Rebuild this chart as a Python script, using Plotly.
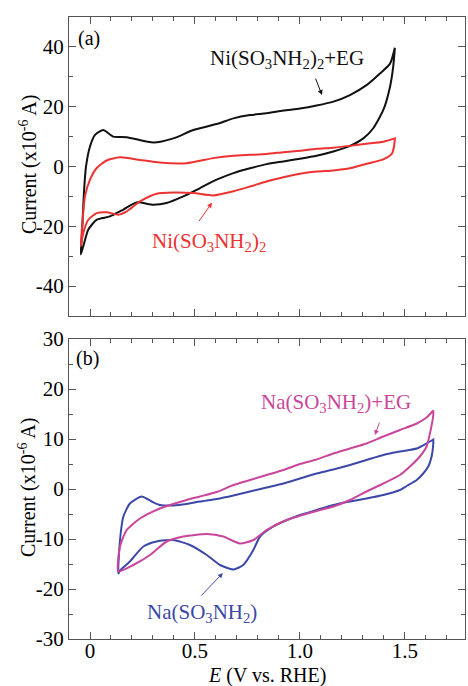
import plotly.graph_objects as go

# ---------------- data (E in V vs RHE, current in 1e-6 A) ----------------
# Panel (a): Ni(SO3NH2)2 + EG (black)
ni_eg_E_fwd = [-0.044, -0.038, -0.029, -0.019, 0.0, 0.024, 0.063, 0.111, 0.175, 0.302, 0.397, 0.492,
               0.603, 0.683, 0.762, 0.841, 0.921, 1.0, 1.079, 1.159, 1.238, 1.317, 1.381, 1.429, 1.452]
ni_eg_I_fwd = [-29.4, -22.2, -8.9, 0.0, 6.7, 10.6, 12.2, 10.0, 9.8, 8.0, 9.4, 12.2,
               14.2, 16.1, 17.2, 17.8, 18.7, 19.4, 20.4, 21.7, 23.9, 27.2, 31.1, 34.4, 39.7]
ni_eg_E_rev = [1.452, 1.444, 1.429, 1.397, 1.349, 1.302, 1.238, 1.159, 1.079, 1.0, 0.921, 0.841, 0.762,
               0.683, 0.603, 0.524, 0.444, 0.365, 0.302, 0.222, 0.159, 0.095, 0.032, -0.008, -0.032, -0.044]
ni_eg_I_rev = [39.7, 33.3, 26.7, 18.9, 12.8, 9.4, 6.9, 5.0, 3.6, 2.6, 1.7, 0.8, -0.6,
               -2.2, -4.4, -7.2, -10.0, -12.2, -12.8, -12.0, -14.4, -16.7, -17.8, -21.1, -26.7, -29.4]

# Panel (a): Ni(SO3NH2)2 (red)
ni_E_fwd = [-0.044, -0.035, -0.024, 0.0, 0.032, 0.079, 0.143, 0.238, 0.333, 0.46, 0.587, 0.683,
            0.762, 0.841, 0.921, 1.0, 1.079, 1.159, 1.238, 1.317, 1.397, 1.452]
ni_I_fwd = [-26.7, -17.8, -10.0, -4.4, -0.5, 2.0, 3.1, 2.2, 1.3, 1.1, 2.8, 3.6,
            3.9, 4.2, 4.8, 5.3, 5.9, 6.3, 6.9, 7.6, 8.3, 9.4]
ni_E_rev = [1.452, 1.448, 1.437, 1.397, 1.317, 1.238, 1.159, 1.079, 1.0, 0.921, 0.841, 0.762, 0.683,
            0.587, 0.492, 0.397, 0.317, 0.238, 0.175, 0.135, 0.079, 0.032, -0.008, -0.032, -0.044]
ni_I_rev = [9.4, 6.7, 4.2, 2.4, 0.9, -0.6, -1.3, -1.7, -2.4, -3.6, -5.0, -6.7, -8.3,
            -9.7, -8.9, -8.7, -9.1, -11.7, -15.0, -16.1, -15.3, -15.6, -17.8, -22.2, -26.7]

# Panel (b): Na(SO3NH2) (blue)
na_E_fwd = [0.135, 0.143, 0.159, 0.190, 0.246, 0.294, 0.333, 0.397, 0.460, 0.524, 0.603, 0.683, 0.762,
            0.841, 0.921, 1.0, 1.079, 1.159, 1.238, 1.317, 1.397, 1.476, 1.556, 1.603, 1.635]
na_I_fwd = [-16.9, -10.2, -5.5, -2.9, -1.5, -2.5, -3.2, -3.3, -3.0, -2.5, -2.0, -1.3, -0.5,
            0.3, 1.1, 2.1, 3.1, 3.9, 4.8, 5.8, 6.8, 7.5, 8.1, 9.1, 9.9]
na_E_rev = [1.635, 1.635, 1.627, 1.611, 1.587, 1.556, 1.508, 1.476, 1.397, 1.317, 1.238, 1.159, 1.079,
            1.0, 0.921, 0.873, 0.810, 0.778, 0.730, 0.683, 0.619, 0.556, 0.476, 0.397, 0.317, 0.254,
            0.190, 0.143, 0.135]
na_I_rev = [9.9, 9.1, 6.5, 4.5, 3.1, 1.8, 0.6, -0.2, -1.2, -1.9, -2.5, -3.2, -4.2,
            -5.2, -6.5, -7.5, -9.5, -12.2, -15.2, -16.1, -15.2, -13.2, -11.2, -10.2, -10.5, -11.5,
            -14.5, -16.3, -16.9]

# Panel (b): Na(SO3NH2) + EG (magenta)
na_eg_E_fwd = [0.135, 0.143, 0.175, 0.238, 0.333, 0.460, 0.524, 0.603, 0.683, 0.762, 0.841, 0.921,
               1.0, 1.079, 1.159, 1.238, 1.317, 1.397, 1.476, 1.556, 1.603, 1.635]
na_eg_I_fwd = [-16.5, -11.5, -8.2, -5.9, -3.9, -2.2, -1.5, -0.6, 0.8, 1.8, 2.8, 3.8,
               5.0, 5.9, 7.1, 8.1, 9.1, 10.5, 11.8, 13.1, 14.3, 15.7]
na_eg_E_rev = [1.635, 1.635, 1.619, 1.603, 1.571, 1.524, 1.476, 1.397, 1.317, 1.238, 1.159, 1.079,
               0.937, 0.841, 0.778, 0.714, 0.635, 0.556, 0.444, 0.365, 0.286, 0.206, 0.135]
na_eg_I_rev = [15.7, 14.8, 11.1, 8.5, 6.5, 4.5, 2.8, 1.1, -0.5, -2.2, -3.5, -4.4,
               -6.2, -8.2, -10.2, -10.9, -9.5, -9.0, -9.5, -10.5, -13.2, -15.2, -16.5]

# ticks
x_tickvals = [0, 0.5, 1.0, 1.5]
x_ticktext = ["0", "0.5", "1.0", "1.5"]
ya_tickvals = [-40, -20, 0, 20, 40]
ya_ticktext = ["-40", "-20", "0", "20", "40"]
yb_tickvals = [-30, -20, -10, 0, 10, 20, 30]
yb_ticktext = ["-30", "-20", "-10", "0", "10", "20", "30"]

# colours
C_BLACK = "#111111"
C_RED = "#ec3232"
C_BLUE = "#3c48a8"
C_MAG = "#c9479a"

FONT = "Liberation Serif"
FS = 20      # axis titles
FS_T = 21    # tick labels
FS_L = 21    # series labels

fig = go.Figure()
fig.add_trace(go.Scatter(x=ni_eg_E_fwd + ni_eg_E_rev, y=ni_eg_I_fwd + ni_eg_I_rev, mode="lines",
                         line=dict(color=C_BLACK, width=2, shape="spline", smoothing=0.6),
                         xaxis="x", yaxis="y", showlegend=False))
fig.add_trace(go.Scatter(x=ni_E_fwd + ni_E_rev, y=ni_I_fwd + ni_I_rev, mode="lines",
                         line=dict(color=C_RED, width=2, shape="spline", smoothing=0.6),
                         xaxis="x", yaxis="y", showlegend=False))
fig.add_trace(go.Scatter(x=na_E_fwd + na_E_rev, y=na_I_fwd + na_I_rev, mode="lines",
                         line=dict(color=C_BLUE, width=2, shape="spline", smoothing=0.6),
                         xaxis="x2", yaxis="y2", showlegend=False))
fig.add_trace(go.Scatter(x=na_eg_E_fwd + na_eg_E_rev, y=na_eg_I_fwd + na_eg_I_rev, mode="lines",
                         line=dict(color=C_MAG, width=2, shape="spline", smoothing=0.6),
                         xaxis="x2", yaxis="y2", showlegend=False))

W, H = 468, 686
L, R = 69, 3
top_dom = [1 - 316 / H, 1 - 17 / H]
bot_dom = [1 - 639 / H, 1 - 339 / H]

frame = dict(showline=True, linecolor="#555555", linewidth=1, mirror="allticks",
             ticks="inside", ticklen=7, tickcolor="#555555", tickwidth=1,
             showgrid=False, zeroline=False, automargin=False,
             tickfont=dict(family=FONT, size=FS_T, color="black"))

xrange = [-0.1, 1.786]
xminor = dict(ticks="inside", dtick=0.1, tick0=0, ticklen=4, tickcolor="#555555", showgrid=False)

fig.update_layout(
    width=W, height=H,
    margin=dict(l=L, r=R, t=0, b=0),
    paper_bgcolor="white", plot_bgcolor="white",
    xaxis=dict(domain=[0, 1], anchor="y", range=xrange, tickvals=x_tickvals,
               showticklabels=False, minor=xminor, **frame),
    yaxis=dict(domain=top_dom, anchor="x", range=[-50, 50], tickvals=ya_tickvals, ticktext=ya_ticktext,
               minor=dict(ticks="inside", dtick=10, tick0=0, ticklen=4, tickcolor="#555555", showgrid=False),
               **frame),
    xaxis2=dict(domain=[0, 1], anchor="y2", range=xrange, tickvals=x_tickvals, ticktext=x_ticktext,
                ticklabelstandoff=-7, minor=xminor, **frame),
    yaxis2=dict(domain=bot_dom, anchor="x2", range=[-30, 30], tickvals=yb_tickvals, ticktext=yb_ticktext,
                minor=dict(ticks="inside", dtick=5, tick0=0, ticklen=4, tickcolor="#555555", showgrid=False),
                **frame),
)

def px_x(p):
    return (p - L) / (W - L - R)

def px_y(p):
    return 1 - p / H

ann = []
txt = dict(family=FONT, size=FS)
lab = dict(family=FONT, size=FS_L)
# axis titles
ytitle = "Current (x10<sup>-6</sup> A)"
ann.append(dict(text=ytitle, xref="paper", yref="paper", x=px_x(28), y=px_y(165), textangle=-90,
                showarrow=False, font=dict(txt, color="black"), xanchor="center", yanchor="middle"))
ann.append(dict(text=ytitle, xref="paper", yref="paper", x=px_x(27), y=px_y(488), textangle=-90,
                showarrow=False, font=dict(txt, color="black"), xanchor="center", yanchor="middle"))
ann.append(dict(text="<i>E</i> (V vs. RHE)", xref="paper", yref="paper", x=px_x(267), y=px_y(675),
                showarrow=False, font=dict(txt, color="black"), xanchor="center", yanchor="middle"))
# panel letters
ann.append(dict(text="(a)", xref="x", yref="y", x=-0.005, y=42.9, showarrow=False,
                font=dict(txt, color="black"), xanchor="center", yanchor="middle"))
ann.append(dict(text="(b)", xref="x2", yref="y2", x=-0.01, y=26.2, showarrow=False,
                font=dict(txt, color="black"), xanchor="center", yanchor="middle"))
# series labels
ann.append(dict(text="Ni(SO<sub>3</sub>NH<sub>2</sub>)<sub>2</sub>+EG", xref="x", yref="y", x=0.938, y=35.9,
                showarrow=False, font=dict(lab, color=C_BLACK), xanchor="center", yanchor="middle"))
ann.append(dict(text="Ni(SO<sub>3</sub>NH<sub>2</sub>)<sub>2</sub>", xref="x", yref="y", x=0.567, y=-25.1,
                showarrow=False, font=dict(lab, color=C_RED), xanchor="center", yanchor="middle"))
ann.append(dict(text="Na(SO<sub>3</sub>NH<sub>2</sub>)+EG", xref="x2", yref="y2", x=1.171, y=17.2,
                showarrow=False, font=dict(lab, color=C_MAG), xanchor="center", yanchor="middle"))
ann.append(dict(text="Na(SO<sub>3</sub>NH<sub>2</sub>)", xref="x2", yref="y2", x=0.533, y=-24.8,
                showarrow=False, font=dict(lab, color=C_BLUE), xanchor="center", yanchor="middle"))
# arrows
arrow = dict(text="", showarrow=True, arrowhead=2, arrowsize=1, arrowwidth=1)
ann.append(dict(arrow, xref="x", yref="y", x=1.105, y=23.9, ax=-7, ay=-18, arrowcolor=C_BLACK))
ann.append(dict(arrow, xref="x", yref="y", x=0.581, y=-12.1, ax=-14, ay=20, arrowcolor=C_RED))
ann.append(dict(arrow, xref="x2", yref="y2", x=1.357, y=10.8, ax=5, ay=-14, arrowcolor=C_MAG))
ann.append(dict(arrow, xref="x2", yref="y2", x=0.633, y=-16.8, ax=-23, ay=24, arrowcolor=C_BLUE))

fig.update_layout(annotations=ann)

fig.write_html("out.html", config={"displayModeBar": False},
               post_script="document.body.style.margin='0px';document.body.style.padding='0px';")
